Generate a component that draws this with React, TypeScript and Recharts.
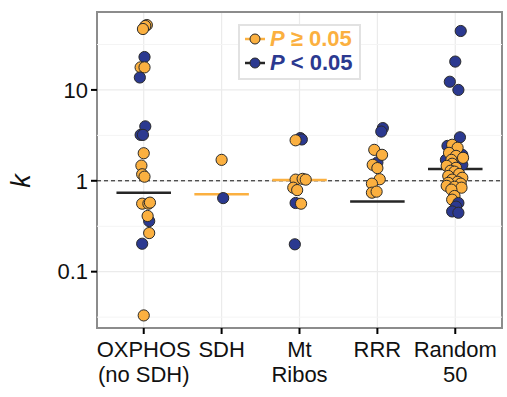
import React from 'react';
import { ScatterChart, Scatter, XAxis, YAxis, CartesianGrid, ReferenceLine, ReferenceArea, Legend } from 'recharts';

const categories = ['OXPHOS\n(no SDH)', 'SDH', 'Mt\nRibos', 'RRR', 'Random\n50'];

// each point: [k, horizontal jitter (category units), significant P<0.05 (1) or not (0)]
const oxphosPoints: number[][] = [
  [51.7, 0.04, 0], [50.5, 0.02, 0], [46.8, -0.01, 0], [23.0, 0.01, 1], [17.7, -0.04, 0],
  [17.7, 0.01, 0], [13.7, -0.05, 1], [3.97, 0.02, 1], [3.2, -0.04, 1], [3.2, -0.01, 1],
  [2.01, 0.0, 0], [1.47, -0.03, 0], [1.18, -0.02, 0], [1.11, 0.01, 0], [0.56, -0.02, 0],
  [0.56, 0.06, 0], [0.575, 0.08, 0], [0.36, 0.07, 1], [0.41, 0.05, 0], [0.266, 0.07, 0],
  [0.203, -0.02, 1], [0.033, 0.0, 0],
];
const sdhPoints: number[][] = [
  [1.7, 0.0, 0], [0.645, 0.02, 1],
];
const mtRibosPoints: number[][] = [
  [2.95, 0.01, 1], [2.85, 0.03, 1], [2.79, -0.05, 0], [1.03, -0.05, 0], [1.05, 0.04, 0],
  [1.03, 0.08, 0], [0.84, -0.08, 0], [0.79, -0.03, 0], [0.57, -0.05, 1], [0.56, 0.02, 0],
  [0.2, -0.06, 1],
];
const rrrPoints: number[][] = [
  [3.8, 0.07, 1], [3.48, 0.05, 1], [1.59, 0.0, 1], [2.19, -0.04, 0], [1.93, 0.06, 0],
  [1.5, -0.06, 0], [1.38, 0.0, 0], [1.04, 0.03, 0], [0.93, -0.07, 0], [0.74, -0.07, 0],
  [0.76, -0.01, 0],
];
const random50Points: number[][] = [
  [44.5, 0.07, 1], [20.5, 0.0, 1], [12.3, -0.07, 1], [10.0, 0.04, 1], [3.01, 0.06, 1],
  [2.42, -0.1, 1], [2.19, -0.01, 1], [1.93, 0.09, 1], [1.7, -0.12, 1], [1.58, 0.06, 1],
  [1.5, 0.09, 1], [2.49, -0.04, 0], [2.31, 0.03, 0], [2.03, -0.08, 0], [1.88, 0.01, 0],
  [1.79, 0.1, 0], [1.7, -0.05, 0], [1.54, -0.04, 0], [1.46, -0.11, 0], [1.39, 0.01, 0],
  [1.29, -0.06, 0], [1.26, -0.01, 0], [1.19, 0.05, 0], [1.13, -0.09, 0], [1.08, 0.09, 0],
  [1.03, -0.04, 0], [0.975, 0.03, 0], [0.95, -0.09, 0], [0.93, 0.07, 0], [0.88, -0.11, 0],
  [0.86, -0.01, 0], [0.84, 0.08, 0], [0.8, -0.05, 0], [0.68, -0.01, 0], [0.62, -0.04, 0],
  [0.57, 0.04, 1], [0.52, 0.01, 1], [0.46, -0.04, 1], [0.445, 0.04, 1],
];

const medians = [0.74, 0.71, 1.02, 0.59, 1.35];
const medianSignificant = [1, 0, 0, 1, 1];
const yTicks = [0.1, 1, 10];
const yMinorTicks = [0.0316, 0.316, 3.16, 31.6];
const legendLabels = ['\u2265 0.05', '< 0.05'];
const yTitle = 'k';

const ORANGE = '#FBB040';
const BLUE = '#2B3990';
const DARK = '#262626';
const FONT = '"Liberation Sans", Arial, Helvetica, sans-serif';

const groups = [oxphosPoints, sdhPoints, mtRibosPoints, rrrPoints, random50Points];
const data = groups.flatMap((g, i) => g.map(([k, dx, s]) => ({ x: i + dx, k, s })));

const Dot = (props: any) => {
  const { cx, cy, payload } = props;
  if (cx == null || cy == null) return null;
  return <circle cx={cx} cy={cy} r={5.6} fill={payload.s ? BLUE : ORANGE} stroke="#2a2a2a" strokeWidth={1} />;
};

const XTick = (props: any) => {
  const { x, y, payload } = props;
  const lines = categories[payload.value].split('\n');
  return (
    <text x={x} y={y} textAnchor="middle" fontFamily={FONT} fontSize={22} fill="#111">
      {lines.map((l, i) => (
        <tspan key={i} x={x} dy={i === 0 ? 21 : 25}>{l}</tspan>
      ))}
    </text>
  );
};

const YTitle = () => {
  const cx = 21;
  const cy = 181;
  return (
    <text x={cx} y={cy} transform={`rotate(-90, ${cx}, ${cy})`} textAnchor="middle" dominantBaseline="central"
      fontFamily={FONT} fontStyle="italic" fontSize={27} fill="#111">{yTitle}</text>
  );
};

const LegendBox = () => (
  <div style={{ border: '2px solid #e2e2e2', background: '#fff', padding: '1px 6px 3px 3px', fontFamily: FONT, fontWeight: 'bold', fontSize: 22, lineHeight: '24px', whiteSpace: 'nowrap' }}>
    {legendLabels.map((lab, i) => (
      <div key={i} style={{ display: 'flex', alignItems: 'center', color: i === 0 ? ORANGE : BLUE }}>
        <svg width={24} height={16} style={{ marginRight: 3 }}>
          <line x1={2} x2={22} y1={8} y2={8} stroke={i === 0 ? ORANGE : DARK} strokeWidth={2.5} />
          <circle cx={12} cy={8} r={5} fill={i === 0 ? ORANGE : BLUE} stroke="#2a2a2a" strokeWidth={1} />
        </svg>
        <span><i>P</i> {lab}</span>
      </div>
    ))}
  </div>
);

export default function App() {
  return (
    <div style={{ position: 'absolute', left: 0, top: 0, background: '#fff' }}>
      <ScatterChart width={507} height={397} margin={{ top: 12, right: 5, bottom: 0, left: 0 }}>
        <CartesianGrid stroke="#ebebeb" strokeWidth={1.2} />
        {yMinorTicks.map((t) => (
          <ReferenceLine key={t} y={t} stroke="#f4f4f4" strokeWidth={1} />
        ))}
        <XAxis
          type="number"
          dataKey="x"
          domain={[-0.6, 4.6]}
          ticks={[0, 1, 2, 3, 4]}
          allowDataOverflow
          axisLine={false}
          tickLine={{ stroke: '#000', strokeWidth: 2 }}
          tickSize={6}
          height={69}
          tick={<XTick />}
          interval={0}
        />
        <YAxis
          type="number"
          dataKey="k"
          scale="log"
          domain={[0.024, 72]}
          ticks={yTicks}
          allowDataOverflow
          axisLine={false}
          tickLine={{ stroke: '#000', strokeWidth: 2 }}
          tickSize={6}
          tickMargin={3}
          width={97}
          tickFormatter={(v: number) => String(v)}
          tick={{ fontFamily: FONT, fontSize: 22, fill: '#111' }}
          label={<YTitle />}
        />
        <ReferenceLine y={1} stroke="#111" strokeDasharray="4 3" strokeWidth={1} />
        <Scatter data={data} shape={<Dot />} isAnimationActive={false} />
        {medians.map((m, i) => (
          <ReferenceLine
            key={i}
            segment={[{ x: i - 0.35, y: m }, { x: i + 0.35, y: m }]}
            stroke={medianSignificant[i] ? DARK : ORANGE}
            strokeWidth={2.5}
            ifOverflow="visible"
          />
        ))}
        <ReferenceArea x1={-0.6} x2={4.6} y1={0.024} y2={72} fill="none" stroke="#8c8c8c" strokeWidth={2} ifOverflow="visible" />
        <Legend
          layout="horizontal"
          verticalAlign="middle"
          align="center"
          content={<LegendBox />}
          wrapperStyle={{ position: 'absolute', left: 238, top: 24, width: 'auto', height: 'auto' }}
        />
      </ScatterChart>
    </div>
  );
}
